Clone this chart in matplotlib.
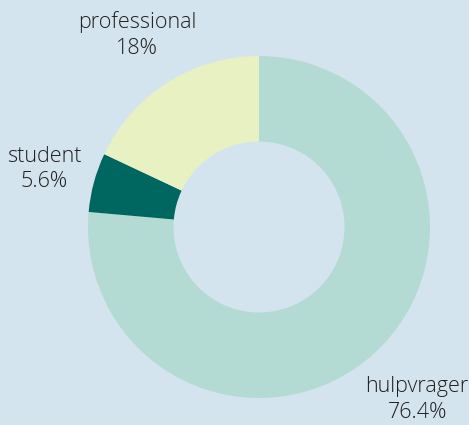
import numpy as np
import matplotlib
matplotlib.use('Agg')
import matplotlib.pyplot as plt

labels = ['hulpvrager', 'student', 'professional']
values = [76.4, 5.6, 18.0]
pct_text = ['76.4%', '5.6%', '18%']
colors = ['#b3dbd3', '#006760', '#e8f1c2']

BG = '#d3e4ee'
W, H = 469, 425
CX, CY, R = 259, 227, 171

plt.rcParams['font.family'] = ['Open Sans', 'DejaVu Sans']

fig = plt.figure(figsize=(W / 100, H / 100), dpi=100, facecolor=BG)
ax = fig.add_axes([0, 0, 1, 1])
ax.set_facecolor(BG)
ax.axis('off')

ax.pie(values, colors=colors, startangle=90, counterclock=False,
       radius=1.0, wedgeprops=dict(width=0.5, linewidth=0))
ax.set_xlim(-CX / R, (W - CX) / R)
ax.set_ylim(-(H - CY) / R, CY / R)

# labels outside the ring, a bit further out for the big slice
label_dist = [1.37, 1.30, 1.33]
cum = np.cumsum([0] + values)
for i, (lab, pt) in enumerate(zip(labels, pct_text)):
    mid = (cum[i] + cum[i + 1]) / 2 / sum(values)
    ang = np.deg2rad(90 - mid * 360)
    d = label_dist[i]
    ax.text(d * np.cos(ang), d * np.sin(ang), f'{lab}\n{pt}', ha='center', va='center',
            fontsize=15.5, fontweight='light', color='#1f1f1f', linespacing=1.3)

fig.savefig('out.png', dpi=100, facecolor=BG)
